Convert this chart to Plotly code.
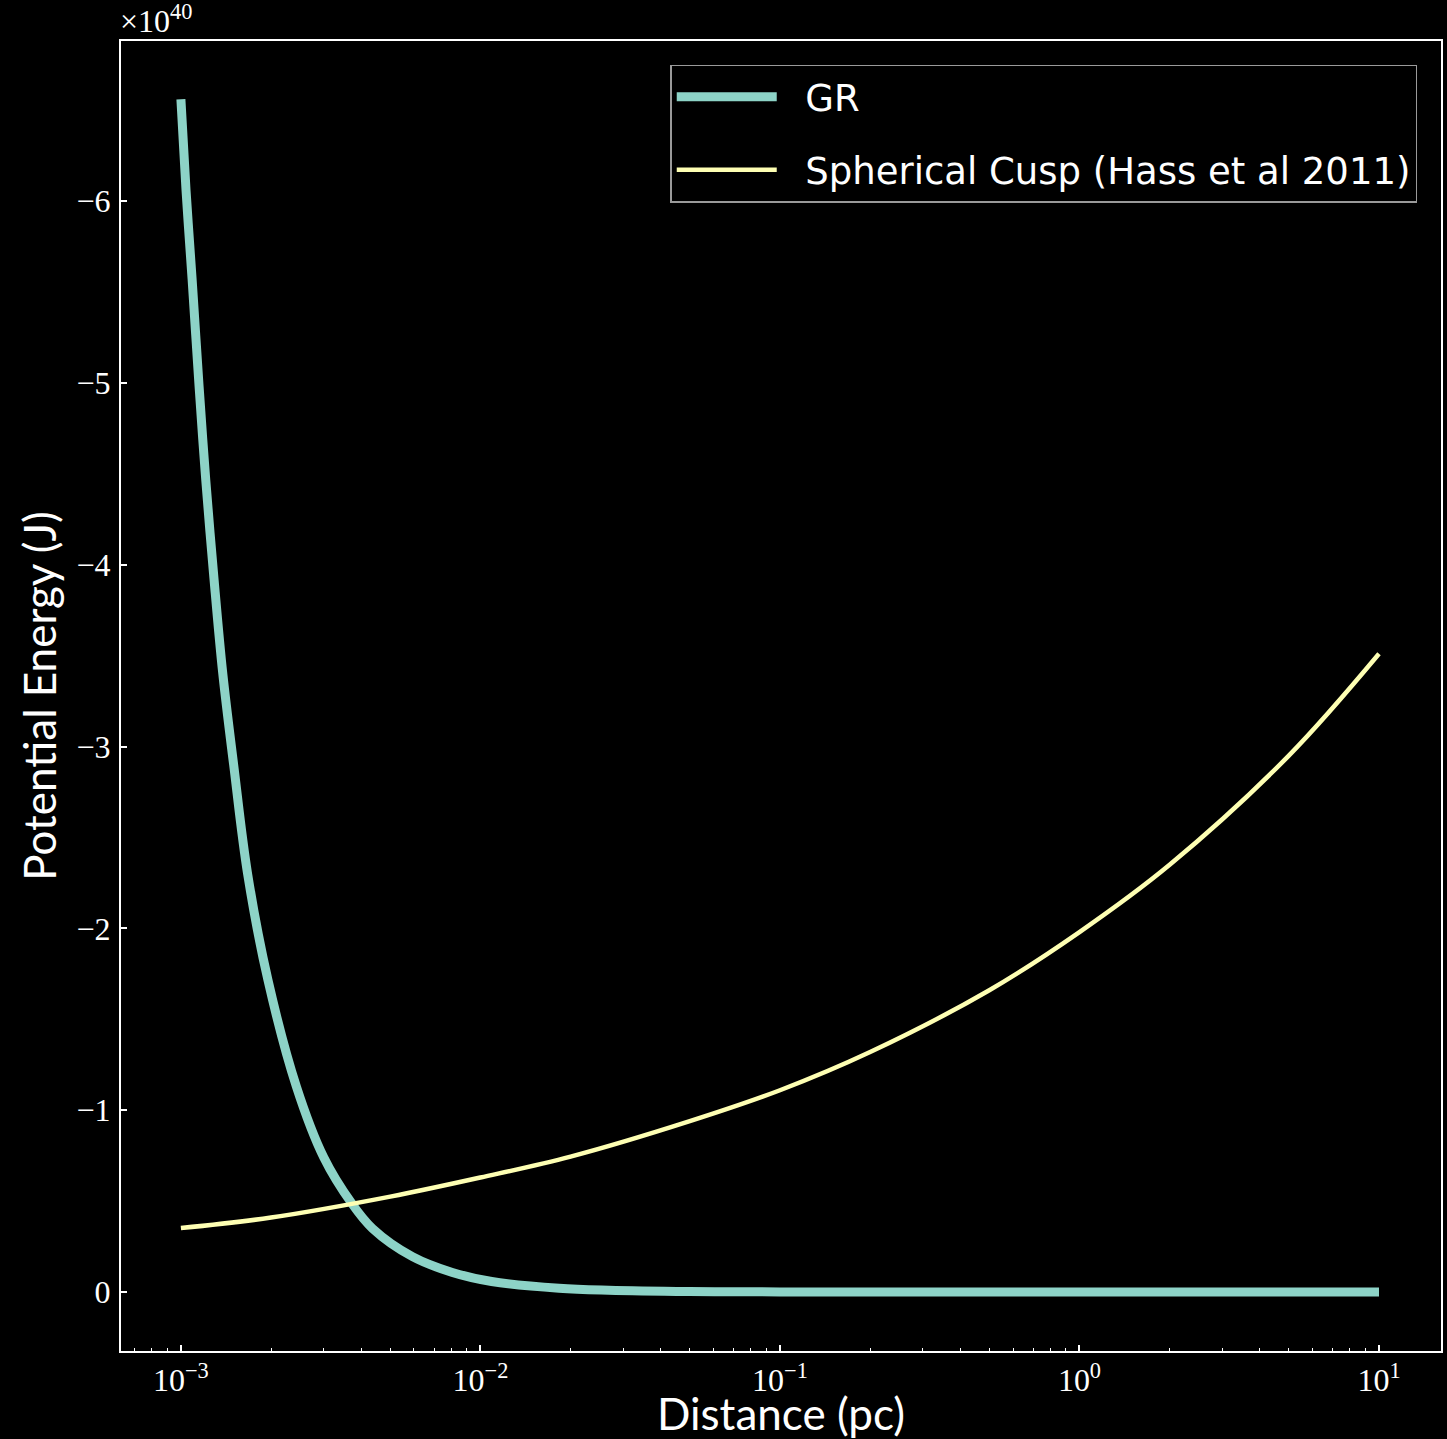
import plotly.graph_objects as go

# Distance (pc) and potential energy (x1e40 J)
gr_x = [1.0e-3, 1.04e-3, 1.09e-3, 1.15e-3, 1.21e-3, 1.29e-3, 1.38e-3, 1.5e-3, 1.67e-3,
        1.95e-3, 2.43e-3, 3.0e-3, 3.71e-3, 4.36e-3, 5.93e-3, 8.06e-3, 1.09e-2,
        1.83e-2, 2.68e-2, 5.0e-2, 1.0e-1, 1.0, 10.0]
gr_y = [-6.56, -6.06, -5.57, -4.98, -4.47, -3.92, -3.40, -2.90, -2.30,
        -1.72, -1.13, -0.74, -0.49, -0.35, -0.195, -0.108, -0.058,
        -0.021, -0.010, -0.003, -0.001, 0.0, 0.0]

cusp_x = [1e-3, 2e-3, 5e-3, 1e-2, 2e-2, 5e-2, 0.1, 0.2, 0.5, 1.0, 2.0, 5.0, 10.0]
cusp_y = [-0.352, -0.41, -0.525, -0.63, -0.745, -0.94, -1.11, -1.32, -1.66,
          -1.98, -2.35, -2.95, -3.51]

x_tickvals = [1e-3, 1e-2, 1e-1, 1e0, 1e1]
x_ticktext = ["10<sup>\u22123</sup>", "10<sup>\u22122</sup>", "10<sup>\u22121</sup>",
              "10<sup>0</sup>", "10<sup>1</sup>"]
y_tickvals = [0, -1, -2, -3, -4, -5, -6]
y_ticktext = ["0", "\u22121", "\u22122", "\u22123", "\u22124", "\u22125", "\u22126"]

series_names = ["GR", "Spherical Cusp (Hass et al 2011)"]

minor_x = [m * 10.0 ** e for e in range(-4, 2) for m in range(2, 10)]

pad = "\u00a0\u00a0"  # small gap between legend line sample and label

fig = go.Figure()
fig.add_trace(go.Scatter(x=gr_x, y=gr_y, mode="lines", name=pad + series_names[0],
                         line=dict(color="#8dd3c7", width=9, shape="spline"),
                         legendgroup="a"))
fig.add_trace(go.Scatter(x=cusp_x, y=cusp_y, mode="lines",
                         name=pad + series_names[1],
                         line=dict(color="#feffb3", width=4.5, shape="spline"),
                         legendgroup="b"))

serif = "Liberation Serif, DejaVu Serif, serif"
sans = "Lato, Open Sans, sans-serif"

fig.update_layout(
    width=1447, height=1439,
    paper_bgcolor="black", plot_bgcolor="black",
    margin=dict(l=121, r=4, t=41, b=86),
    showlegend=True,
    legend=dict(x=0.982, y=0.982, xanchor="right", yanchor="top",
                bgcolor="black", bordercolor="#9a9a9a", borderwidth=1.5,
                font=dict(family="DejaVu Sans, sans-serif", size=37, color="white"),
                tracegroupgap=22, traceorder="grouped", itemwidth=100),
    annotations=[dict(xref="paper", yref="paper", x=-0.002, y=1.0,
                      xanchor="left", yanchor="bottom",
                      text="\u00d710<sup>40</sup>", showarrow=False,
                      font=dict(family=serif, size=32, color="white"))],
)

fig.update_xaxes(
    type="log", range=[-3.2, 1.207],
    tickmode="array", tickvals=x_tickvals, ticktext=x_ticktext,
    ticks="inside", ticklen=6, tickwidth=1.5, tickcolor="white",
    minor=dict(tickmode="array", tickvals=minor_x, ticks="inside", ticklen=3,
               tickwidth=1, tickcolor="white", showgrid=False),
    showgrid=False, zeroline=False,
    showline=True, linecolor="white", linewidth=2, mirror=True,
    tickfont=dict(family=serif, size=32, color="white"),
    title=dict(text="Distance (pc)", font=dict(family=sans, size=44, color="white"),
               standoff=6),
)
fig.update_yaxes(
    range=[0.324, -6.88],
    tickmode="array", tickvals=y_tickvals, ticktext=y_ticktext,
    ticks="inside", ticklen=6, tickwidth=1.5, tickcolor="white",
    showgrid=False, zeroline=False,
    showline=True, linecolor="white", linewidth=2, mirror=True,
    tickfont=dict(family=serif, size=32, color="white"),
    ticklabelstandoff=2,
    title=dict(text="Potential Energy (J)", font=dict(family=sans, size=44, color="white"),
               standoff=6),
)

page_js = ("document.body.style.margin='0';"
           "document.body.style.background='black';"
           "document.documentElement.style.background='black';"
           "document.body.style.overflow='hidden';")
fig.write_html("out.html", post_script=page_js, config={"displayModeBar": False})
